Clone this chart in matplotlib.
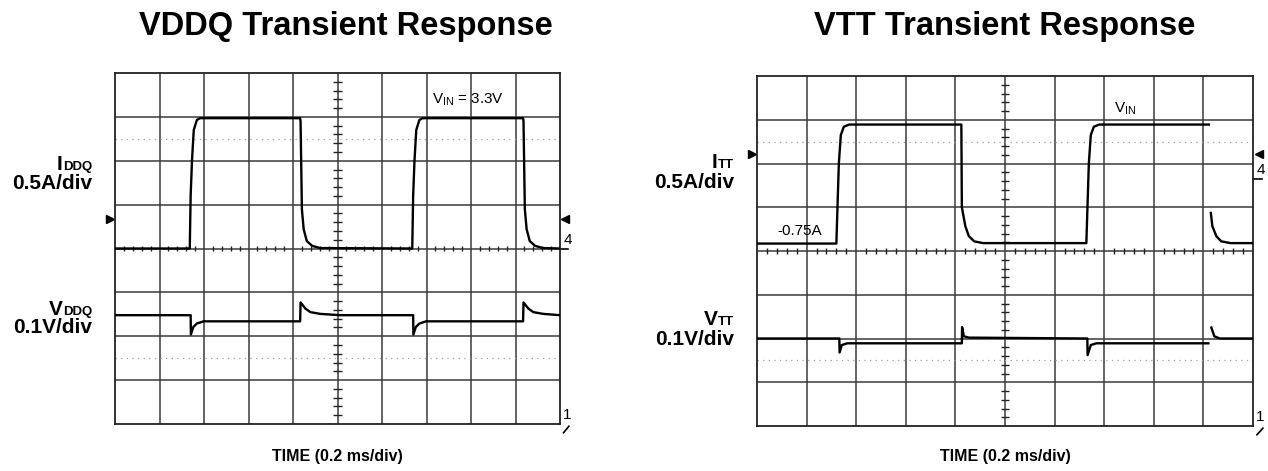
import numpy as np
import matplotlib
matplotlib.use("Agg")
import matplotlib.pyplot as plt

plt.rcParams['font.family'] = ['Liberation Sans', 'DejaVu Sans']
plt.rcParams['mathtext.fontset'] = 'custom'
plt.rcParams['mathtext.rm'] = 'Liberation Sans'
plt.rcParams['mathtext.bf'] = 'Liberation Sans:bold'
plt.rcParams['mathtext.it'] = 'Liberation Sans:italic'

nan = np.nan

# ---- data (time in divisions, level in divisions from bottom of screen) ----
titles = ["VDDQ Transient Response", "VTT Transient Response"]
xlabel = "TIME (0.2 ms/div)"

iddq_t = [0.00, 1.68, 1.70, 1.73, 1.77, 1.84, 1.91, 4.16, 4.17, 4.20, 4.24, 4.31, 4.43, 4.61,
          6.68, 6.70, 6.73, 6.77, 6.84, 6.91, 9.17, 9.18, 9.21, 9.25, 9.32, 9.44, 9.62, 10.0]
iddq_y = [4.00, 4.00, 5.20, 6.00, 6.70, 6.93, 6.97, 6.97, 6.90, 4.89, 4.44, 4.17, 4.06, 4.01,
          4.00, 5.20, 6.00, 6.70, 6.93, 6.97, 6.97, 6.90, 4.89, 4.44, 4.17, 4.06, 4.01, 4.00]

vddq_t = [0.00, 1.70, 1.705, 1.76, 1.84, 1.99, 4.16, 4.17, 4.28, 4.39, 4.61, 5.06,
          6.70, 6.705, 6.76, 6.84, 6.99, 9.17, 9.18, 9.29, 9.40, 9.62, 10.0]
vddq_y = [2.48, 2.48, 2.04, 2.21, 2.29, 2.34, 2.34, 2.77, 2.63, 2.55, 2.51, 2.48,
          2.48, 2.04, 2.21, 2.29, 2.34, 2.34, 2.77, 2.63, 2.55, 2.51, 2.48]

itt_t = [0.00, 1.60, 1.65, 1.69, 1.75, 1.86, 4.12, 4.13, 4.20, 4.27, 4.38, 4.56,
         6.64, 6.69, 6.73, 6.79, 6.90, 9.11, nan, 9.15, 9.18, 9.26, 9.36, 9.55, 10.0]
itt_y = [4.17, 4.17, 6.00, 6.65, 6.84, 6.89, 6.89, 5.00, 4.57, 4.34, 4.22, 4.18,
         4.18, 6.00, 6.65, 6.84, 6.89, 6.89, nan, 4.87, 4.57, 4.34, 4.22, 4.18, 4.18]

vtt_t = [0.00, 1.66, 1.665, 1.71, 1.82, 4.13, 4.135, 4.17, 4.27, 6.66, 6.665, 6.73, 6.84,
         9.10, nan, 9.16, 9.22, 9.33, 10.0]
vtt_y = [2.00, 2.00, 1.68, 1.85, 1.89, 1.89, 2.26, 2.05, 2.02, 2.00, 1.62, 1.85, 1.89,
         1.89, nan, 2.25, 2.05, 2.00, 2.00]

W, H = 1268, 471
fig = plt.figure(figsize=(W / 100, H / 100), dpi=100)


def px_axes(x0, y0, x1, y1):
    return fig.add_axes([x0 / W, 1 - y1 / H, (x1 - x0) / W, (y1 - y0) / H])


def scope(ax):
    ax.set_xlim(0, 10)
    ax.set_ylim(0, 8)
    ax.set_xticks([])
    ax.set_yticks([])
    for s in ax.spines.values():
        s.set_color('#222222')
        s.set_linewidth(1.3)
    for i in range(1, 10):
        ax.axvline(i, color='#3a3a3a', lw=1.1, zorder=1)
    for j in range(1, 8):
        ax.axhline(j, color='#3a3a3a', lw=1.1, zorder=1)
    for yy in (6.5, 1.5):
        ax.axhline(yy, color='#a0a0a0', lw=0.9, ls=(0, (1, 3.5)), zorder=1)
    fr = np.arange(1, 50) * 0.2
    fr = fr[np.abs(fr - np.round(fr)) > 1e-6]
    ax.vlines(fr, 3.94, 4.06, color='#222222', lw=1.0, zorder=2)
    fy = np.arange(1, 40) * 0.2
    fy = fy[np.abs(fy - np.round(fy)) > 1e-6]
    ax.hlines(fy, 4.91, 5.09, color='#222222', lw=1.0, zorder=2)


axL = px_axes(115, 73, 560, 424)
axR = px_axes(757, 76, 1253, 426)
scope(axL)
scope(axR)

axL.plot(iddq_t, iddq_y, color='black', lw=1.7, zorder=3)
axL.plot(vddq_t, vddq_y, color='black', lw=1.7, zorder=3)
axR.plot(itt_t, itt_y, color='black', lw=1.7, zorder=3)
axR.plot(vtt_t, vtt_y, color='black', lw=1.7, zorder=3)

# annotations inside screens
axL.text(7.12, 7.38, r"$\mathregular{V_{IN}}$ = 3.3V", fontsize=11, va='center', ha='left')
axR.text(7.2, 7.26, r"$\mathregular{V_{IN}}$", fontsize=11, va='center', ha='left')
axR.text(0.41, 4.45, "-0.75A", fontsize=11, va='center', ha='left')

# channel markers
for ax, trig, gnd in ((axL, 4.68, 4.0), (axR, 6.22, 5.65)):
    ax.plot([-0.11], [trig], marker='>', color='black', ms=6, clip_on=False)
    ax.plot([10.12], [trig], marker='<', color='black', ms=6, clip_on=False)
    ax.text(10.08, gnd + 0.04, "4", fontsize=11, ha='left', va='bottom', clip_on=False)
    ax.plot([10.0, 10.18], [gnd, gnd], color='black', lw=1.2, clip_on=False)
    ax.text(10.06, 0.05, "1", fontsize=11, ha='left', va='bottom', clip_on=False)
    ax.plot([10.08, 10.2], [-0.2, -0.05], color='black', lw=1.2, clip_on=False)

# titles and labels
fig.text(346 / W, 1 - 27 / H, titles[0], fontsize=23.5, fontweight='bold', ha='center', va='center')
fig.text(1005 / W, 1 - 27 / H, titles[1], fontsize=23.5, fontweight='bold', ha='center', va='center')
fig.text(337 / W, 1 - 456 / H, xlabel, fontsize=11.5, fontweight='bold', ha='center', va='center')
fig.text(1005 / W, 1 - 456 / H, xlabel, fontsize=11.5, fontweight='bold', ha='center', va='center')


def chan_label(ax, x_px, base_px, main, sub, scale_txt, scale_base_px):
    s = fig.text(x_px / W, 1 - (base_px + 1) / H, sub, fontsize=9.5, fontweight='bold',
                 ha='right', va='baseline')
    ax.annotate(main, xy=(0, 0), xycoords=s, xytext=(-0.3, 2.4), textcoords='offset points',
                fontsize=15, fontweight='bold', ha='right', va='baseline', annotation_clip=False)
    fig.text(x_px / W, 1 - scale_base_px / H, scale_txt, fontsize=15, fontweight='bold',
             ha='right', va='baseline')


chan_label(axL, 92, 169, "I", "DDQ", "0.5A/div", 189)
chan_label(axL, 92, 314, "V", "DDQ", "0.1V/div", 333)
chan_label(axR, 734, 167, "I", "TT", "0.5A/div", 188)
chan_label(axR, 734, 324, "V", "TT", "0.1V/div", 345)

fig.savefig("out.png", dpi=100, facecolor='white')
